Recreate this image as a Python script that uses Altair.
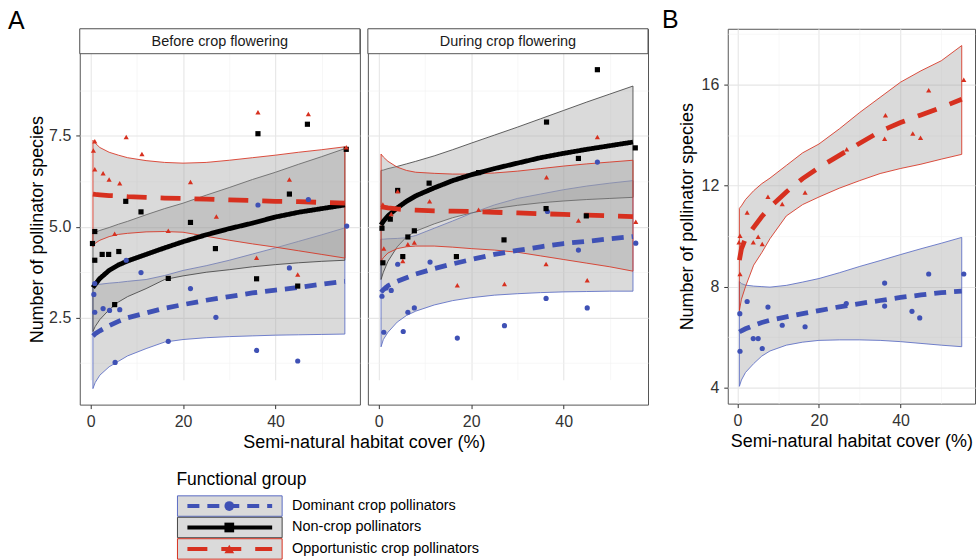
import altair as alt
import pandas as pd

FONT = "Liberation Sans"

GROUPS = ["Dominant crop pollinators", "Non-crop pollinators", "Opportunistic crop pollinators"]
STRIPS = ["Before crop flowering", "During crop flowering"]
X_TITLE = "Semi-natural habitat cover (%)"
Y_TITLE = "Number of pollinator species"
LEGEND_TITLE = "Functional group"
PANEL_LETTERS = ["A", "B"]

# ---------------- observed points ----------------
BEFORE_DOM_X = [36.2, 47.1, 55.4, 7.7, 10.9, 43.0, 0.9, 0.7, 21.6, 0.9, 2.7, 4.1, 6.3, 27.1, 16.8, 5.3, 35.9, 44.8]
BEFORE_DOM_Y = [5.60, 5.75, 5.02, 4.08, 3.74, 3.87, 3.44, 3.14, 3.30, 2.65, 2.75, 2.70, 2.72, 2.51, 1.85, 1.27, 1.60, 1.31]
BEFORE_NON_X = [36.2, 46.9, 55.3, 43.0, 7.6, 10.9, 21.6, 0.9, 0.4, 0.9, 2.5, 3.9, 6.1, 27.0, 16.8, 35.9, 44.8, 5.2]
BEFORE_NON_Y = [7.56, 7.82, 7.13, 5.90, 5.70, 5.41, 5.12, 4.87, 4.54, 4.08, 4.24, 4.24, 4.32, 4.40, 3.58, 3.57, 3.37, 2.86]
BEFORE_OPP_X = [0.6, 0.9, 0.9, 2.7, 4.0, 6.3, 7.7, 11.1, 21.6, 27.2, 16.8, 5.2, 36.2, 43.0, 47.1, 55.3, 35.9, 44.8]
BEFORE_OPP_Y = [7.10, 7.35, 6.58, 6.47, 6.30, 6.20, 7.47, 7.00, 6.23, 5.28, 4.89, 4.81, 8.15, 6.30, 8.10, 7.19, 4.15, 3.69]

DURING_DOM_X = [47.3, 36.5, 55.6, 43.2, 11.1, 4.1, 0.7, 2.7, 1.6, 36.2, 45.1, 6.3, 7.7, 1.1, 5.3, 17.0, 27.2]
DURING_DOM_Y = [6.78, 5.42, 4.55, 4.36, 4.03, 3.97, 3.09, 3.25, 3.32, 3.03, 2.77, 2.65, 2.77, 2.10, 2.12, 1.94, 2.28]
DURING_NON_X = [47.3, 36.3, 55.5, 43.2, 21.6, 10.9, 4.1, 36.2, 44.9, 2.5, 0.7, 7.7, 6.3, 27.1, 0.9, 5.2, 16.8]
DURING_NON_Y = [9.32, 7.88, 7.17, 6.88, 6.49, 6.20, 6.00, 5.50, 5.30, 5.21, 4.96, 4.89, 4.72, 4.64, 4.01, 4.18, 4.18]
DURING_OPP_X = [47.3, 36.3, 4.1, 11.0, 0.9, 2.7, 21.6, 43.2, 55.6, 1.1, 6.3, 7.7, 5.2, 36.2, 17.0, 27.2, 45.1]
DURING_OPP_Y = [7.47, 6.36, 5.98, 5.70, 5.61, 5.35, 5.47, 5.17, 5.14, 4.40, 4.52, 4.57, 4.06, 3.98, 3.39, 3.43, 3.53]

TOTAL_DOM_X = [55.5, 46.9, 36.1, 36.1, 42.8, 44.7, 26.7, 11.0, 16.6, 7.5, 2.4, 0.6, 3.9, 5.1, 6.1, 0.65]
TOTAL_DOM_Y = [8.50, 8.50, 8.14, 7.23, 7.02, 6.76, 7.33, 6.47, 6.41, 7.19, 7.41, 6.93, 5.94, 5.94, 5.55, 5.44]
TOTAL_OPP_X = [55.5, 46.9, 36.3, 43.0, 44.9, 36.1, 26.8, 16.6, 11.0, 7.5, 2.4, 0.65, 5.1, 0.4, 3.9, 6.1, 0.65]
TOTAL_OPP_Y = [16.2, 15.78, 14.79, 14.07, 13.9, 13.86, 13.44, 11.73, 11.27, 11.56, 10.94, 10.02, 9.98, 9.76, 9.76, 9.69, 8.5]

# ---------------- fitted curves and confidence bands ----------------
FIT_X = [0.5, 1, 2, 4, 6, 8, 12, 16, 20, 25, 30, 35, 40, 45, 50, 55]

BEFORE_DOM_FIT = [2.00, 2.06, 2.14, 2.28, 2.40, 2.50, 2.63, 2.76, 2.86, 2.98, 3.08, 3.18, 3.26, 3.33, 3.42, 3.50]
BEFORE_DOM_LO = [0.55, 0.72, 0.92, 1.15, 1.30, 1.45, 1.65, 1.83, 1.90, 1.95, 1.98, 2.00, 2.02, 2.03, 2.04, 2.05]
BEFORE_DOM_HI = [3.40, 3.41, 3.42, 3.45, 3.47, 3.50, 3.55, 3.66, 3.80, 3.93, 4.08, 4.25, 4.42, 4.60, 4.78, 4.97]
BEFORE_NON_FIT = [3.33, 3.42, 3.58, 3.80, 3.95, 4.06, 4.24, 4.42, 4.59, 4.78, 4.95, 5.10, 5.27, 5.40, 5.50, 5.60]
BEFORE_NON_LO = [2.12, 2.26, 2.45, 2.72, 2.93, 3.08, 3.30, 3.55, 3.65, 3.75, 3.82, 3.90, 3.96, 4.01, 4.05, 4.08]
BEFORE_NON_HI = [4.82, 4.85, 4.90, 4.98, 5.07, 5.15, 5.33, 5.50, 5.65, 5.87, 6.08, 6.30, 6.50, 6.72, 6.93, 7.15]
BEFORE_OPP_FIT = [5.90, 5.89, 5.88, 5.86, 5.85, 5.83, 5.81, 5.79, 5.78, 5.76, 5.74, 5.72, 5.70, 5.69, 5.67, 5.65]
BEFORE_OPP_LO = [4.45, 4.55, 4.63, 4.73, 4.79, 4.82, 4.86, 4.87, 4.85, 4.74, 4.63, 4.53, 4.44, 4.34, 4.24, 4.14]
BEFORE_OPP_HI = [7.38, 7.30, 7.18, 7.05, 6.97, 6.90, 6.82, 6.77, 6.75, 6.77, 6.83, 6.90, 6.97, 7.05, 7.12, 7.20]

DURING_DOM_FIT = [3.20, 3.27, 3.38, 3.50, 3.60, 3.70, 3.85, 3.98, 4.10, 4.24, 4.35, 4.45, 4.54, 4.60, 4.67, 4.73]
DURING_DOM_LO = [1.70, 1.90, 2.10, 2.38, 2.56, 2.68, 2.85, 2.97, 3.05, 3.12, 3.16, 3.19, 3.21, 3.22, 3.23, 3.23]
DURING_DOM_HI = [4.66, 4.66, 4.67, 4.68, 4.70, 4.76, 4.96, 5.16, 5.37, 5.60, 5.78, 5.90, 6.02, 6.12, 6.20, 6.27]
DURING_NON_FIT = [5.05, 5.15, 5.30, 5.52, 5.70, 5.85, 6.07, 6.27, 6.43, 6.60, 6.75, 6.90, 7.02, 7.13, 7.23, 7.33]
DURING_NON_LO = [3.55, 3.75, 4.05, 4.45, 4.72, 4.88, 5.08, 5.25, 5.38, 5.50, 5.59, 5.66, 5.71, 5.75, 5.78, 5.81]
DURING_NON_HI = [6.55, 6.56, 6.60, 6.66, 6.73, 6.80, 6.95, 7.12, 7.30, 7.52, 7.74, 7.97, 8.20, 8.43, 8.65, 8.87]
DURING_OPP_FIT = [5.55, 5.54, 5.52, 5.49, 5.47, 5.46, 5.44, 5.43, 5.42, 5.40, 5.38, 5.36, 5.34, 5.32, 5.30, 5.28]
DURING_OPP_LO = [4.05, 4.15, 4.28, 4.40, 4.45, 4.47, 4.47, 4.44, 4.40, 4.36, 4.30, 4.20, 4.10, 4.00, 3.90, 3.78]
DURING_OPP_HI = [7.00, 6.92, 6.80, 6.64, 6.55, 6.50, 6.47, 6.45, 6.45, 6.48, 6.53, 6.60, 6.67, 6.73, 6.78, 6.83]

TOTAL_DOM_FIT = [6.20, 6.25, 6.33, 6.46, 6.58, 6.67, 6.80, 6.93, 7.05, 7.20, 7.33, 7.45, 7.57, 7.67, 7.76, 7.82]
TOTAL_DOM_LO = [4.05, 4.30, 4.60, 4.95, 5.25, 5.45, 5.68, 5.80, 5.87, 5.89, 5.89, 5.87, 5.82, 5.75, 5.68, 5.62]
TOTAL_DOM_HI = [8.20, 8.12, 8.06, 8.02, 8.00, 7.98, 8.05, 8.18, 8.32, 8.55, 8.80, 9.03, 9.27, 9.50, 9.72, 9.95]
TOTAL_OPP_FIT = [9.05, 9.50, 9.90, 10.35, 10.78, 11.15, 11.75, 12.28, 12.72, 13.20, 13.68, 14.15, 14.50, 14.80, 15.10, 15.42]
TOTAL_OPP_LO = [7.05, 7.50, 8.00, 8.85, 9.35, 9.90, 10.80, 11.25, 11.55, 11.90, 12.20, 12.48, 12.68, 12.85, 13.05, 13.24]
TOTAL_OPP_HI = [11.10, 11.20, 11.45, 11.80, 12.08, 12.30, 12.80, 13.30, 13.65, 14.25, 14.90, 15.50, 16.10, 16.55, 16.95, 17.55]

# ---------------- styles ----------------
LINE_COLORS = ["#3F51B5", "#000000", "#D7301F"]
EDGE_COLORS = ["#5A6BC4", "#444444", "#D7301F"]
DASHES = [[12, 8], [1, 0], [20, 14]]
SHAPES = ["circle", "square", "triangle-up"]

color_scale = alt.Scale(domain=GROUPS, range=LINE_COLORS)
edge_scale = alt.Scale(domain=GROUPS, range=EDGE_COLORS)
dash_scale = alt.Scale(domain=GROUPS, range=DASHES)
shape_scale = alt.Scale(domain=GROUPS, range=SHAPES)


def pts_df(series):
    rows = []
    for g, xs, ys in series:
        for a, b in zip(xs, ys):
            rows.append({"group": g, "x": a, "y": b})
    return pd.DataFrame(rows)


def fit_df(series):
    rows = []
    for g, ys, los, his in series:
        for a, b, lo, hi in zip(FIT_X, ys, los, his):
            rows.append({"group": g, "x": a, "y": b, "lo": lo, "hi": hi})
    return pd.DataFrame(rows)


def cond(test, a, b):
    return {"condition": {"test": test, "value": a}, "value": b}


X_SCALE = alt.Scale(domain=[-2.35, 58.25], nice=False, zero=False)


def x_axis(title=None, title_x=None):
    kw = dict(
        values=[0, 10, 20, 30, 40, 50],
        labelExpr="datum.value % 20 === 0 ? datum.label : ''",
        tickOpacity=cond("datum.value % 20 === 0", 1, 0),
        gridColor=cond("datum.value % 20 === 0", "#E6E6E6", "#F2F2F2"),
        gridWidth=cond("datum.value % 20 === 0", 1.1, 0.6),
        domain=False, labelFlush=False, labelOverlap=False,
        labelPadding=5, tickSize=4, titlePadding=4,
        title=title,
    )
    if title_x is not None:
        kw["titleX"] = title_x
    return alt.Axis(**kw)


def y_axis(values, major_test, fmt, title=None, labels=True, title_pad=4):
    kw = dict(
        values=values,
        gridColor=cond(major_test, "#E6E6E6", "#F2F2F2"),
        gridWidth=cond(major_test, 1.1, 0.6),
        domain=False, labelOverlap=False, labelFlush=False,
        title=title,
    )
    if labels:
        kw.update(
            labelExpr=f"{major_test} ? format(datum.value, '{fmt}') : ''",
            tickOpacity=cond(major_test, 1, 0),
            labelPadding=5, tickSize=4, titlePadding=title_pad,
        )
    else:
        kw.update(labels=False, ticks=False)
    return alt.Axis(**kw)


def panel(points, fits, xax, yscale, yax, width, height, extra):
    X = lambda f: alt.X(f, type="quantitative", scale=X_SCALE, axis=xax)
    Y = lambda f: alt.Y(f, type="quantitative", scale=yscale, axis=yax)
    ribbons = alt.Chart(fits).mark_area(
        fill="#9E9E9E", fillOpacity=0.38, strokeWidth=1, strokeOpacity=0.85
    ).encode(
        x=X("x"), y=Y("lo"), y2="hi:Q",
        stroke=alt.Stroke("group:N", scale=edge_scale, legend=None),
    )
    lines = alt.Chart(fits).mark_line(strokeWidth=4.8).encode(
        x=X("x"), y=Y("y"),
        color=alt.Color("group:N", scale=color_scale, legend=None),
        strokeDash=alt.StrokeDash("group:N", scale=dash_scale, legend=None),
    )
    dots = alt.Chart(points).mark_point(filled=True, size=27, opacity=1).encode(
        x=X("x"), y=Y("y"),
        color=alt.Color("group:N", scale=color_scale, legend=None),
        shape=alt.Shape("group:N", scale=shape_scale, legend=None),
    )
    return alt.layer(ribbons, lines, dots, *extra).properties(width=width, height=height)


def strip(label, width):
    d = pd.DataFrame({"label": [label]})
    box = alt.Chart(d).mark_rect(fill="white", stroke="#555555", strokeWidth=1).encode(
        x=alt.value(0), x2=alt.value(width), y=alt.value(0), y2=alt.value(25)
    )
    txt = alt.Chart(d).mark_text(font=FONT, fontSize=14.5, color="#1A1A1A").encode(
        x=alt.value(width / 2), y=alt.value(13), text="label:N"
    )
    return [box, txt]


def letter(t, dx, dy):
    d = pd.DataFrame({"t": [t]})
    return alt.Chart(d).mark_text(
        font=FONT, fontSize=25, align="left", baseline="alphabetic", color="#000000"
    ).encode(x=alt.value(dx), y=alt.value(dy), text="t:N")


def legend_layers(top0, row_h):
    layers = []
    for i, g in enumerate(GROUPS):
        d = pd.DataFrame({"group": [g]})
        top = top0 + i * row_h
        mid = top + (row_h - 1) / 2
        layers.append(alt.Chart(d).mark_rect(fill="#9E9E9E", fillOpacity=0.38, strokeWidth=1).encode(
            x=alt.value(98), x2=alt.value(203), y=alt.value(top), y2=alt.value(top + row_h - 1),
            stroke=alt.Stroke("group:N", scale=edge_scale, legend=None)))
        layers.append(alt.Chart(d).mark_rule(strokeWidth=4).encode(
            x=alt.value(108), x2=alt.value(193), y=alt.value(mid),
            color=alt.Color("group:N", scale=color_scale, legend=None),
            strokeDash=alt.StrokeDash("group:N", scale=dash_scale, legend=None)))
        layers.append(alt.Chart(d).mark_point(filled=True, size=95, opacity=1).encode(
            x=alt.value(150), y=alt.value(mid),
            color=alt.Color("group:N", scale=color_scale, legend=None),
            shape=alt.Shape("group:N", scale=shape_scale, legend=None)))
        layers.append(alt.Chart(d).mark_text(font=FONT, fontSize=14.5, align="left", baseline="middle",
                                             color="#000000").encode(
            x=alt.value(213), y=alt.value(mid), text="group:N"))
    layers.append(alt.Chart(pd.DataFrame({"t": [LEGEND_TITLE]})).mark_text(
        font=FONT, fontSize=17.5, align="left", baseline="alphabetic", color="#000000"
    ).encode(x=alt.value(97), y=alt.value(top0 - 11), text="t:N"))
    return layers


PW = 281
A_H = 377
A_YSCALE = alt.Scale(domain=[0.11, 9.76], range=[A_H, 25], nice=False, zero=False)
A_YVALS = [1.25, 2.5, 3.75, 5, 6.25, 7.5, 8.75]
A_TEST = "datum.value % 2.5 === 0"

before_pts = pts_df([(GROUPS[0], BEFORE_DOM_X, BEFORE_DOM_Y), (GROUPS[1], BEFORE_NON_X, BEFORE_NON_Y),
                     (GROUPS[2], BEFORE_OPP_X, BEFORE_OPP_Y)])
before_fit = fit_df([(GROUPS[0], BEFORE_DOM_FIT, BEFORE_DOM_LO, BEFORE_DOM_HI),
                     (GROUPS[1], BEFORE_NON_FIT, BEFORE_NON_LO, BEFORE_NON_HI),
                     (GROUPS[2], BEFORE_OPP_FIT, BEFORE_OPP_LO, BEFORE_OPP_HI)])
during_pts = pts_df([(GROUPS[0], DURING_DOM_X, DURING_DOM_Y), (GROUPS[1], DURING_NON_X, DURING_NON_Y),
                     (GROUPS[2], DURING_OPP_X, DURING_OPP_Y)])
during_fit = fit_df([(GROUPS[0], DURING_DOM_FIT, DURING_DOM_LO, DURING_DOM_HI),
                     (GROUPS[1], DURING_NON_FIT, DURING_NON_LO, DURING_NON_HI),
                     (GROUPS[2], DURING_OPP_FIT, DURING_OPP_LO, DURING_OPP_HI)])
total_pts = pts_df([(GROUPS[0], TOTAL_DOM_X, TOTAL_DOM_Y), (GROUPS[2], TOTAL_OPP_X, TOTAL_OPP_Y)])
total_fit = fit_df([(GROUPS[0], TOTAL_DOM_FIT, TOTAL_DOM_LO, TOTAL_DOM_HI),
                    (GROUPS[2], TOTAL_OPP_FIT, TOTAL_OPP_LO, TOTAL_OPP_HI)])

left = panel(
    before_pts, before_fit,
    x_axis(title=X_TITLE, title_x=PW + 4),
    A_YSCALE, y_axis(A_YVALS, A_TEST, ".1f", title=Y_TITLE, title_pad=2),
    PW, A_H,
    strip(STRIPS[0], PW) + [letter(PANEL_LETTERS[0], -72, 0)] + legend_layers(468.5, 21.5),
)
right = panel(
    during_pts, during_fit,
    x_axis(title=None),
    A_YSCALE, y_axis(A_YVALS, A_TEST, ".1f", labels=False),
    PW, A_H, strip(STRIPS[1], PW),
)

B_W, B_H = 248, 376
B_YSCALE = alt.Scale(domain=[3.365, 18.215], nice=False, zero=False)
panel_b = panel(
    total_pts, total_fit,
    x_axis(title=X_TITLE),
    B_YSCALE, y_axis([4, 6, 8, 10, 12, 14, 16, 18], "datum.value % 4 === 0", "d", title=Y_TITLE, title_pad=5),
    B_W, B_H, [letter(PANEL_LETTERS[1], -66, -1)],
)

spacer = alt.Chart(pd.DataFrame({"v": [0]})).mark_point(opacity=0).encode(
    x=alt.value(0), y=alt.value(0)
).properties(width=64, height=10, view=alt.ViewBackground(stroke="transparent"))

chart = alt.hconcat(
    left, right, spacer, panel_b, spacing=8, bounds="flush",
    padding={"left": 7, "top": 6, "right": 0, "bottom": 0},
).configure_view(
    stroke="#555555", strokeWidth=1
).configure_axis(
    labelFont=FONT, titleFont=FONT, labelFontSize=16, titleFontSize=18,
    labelColor="#333333", titleColor="#000000", titleFontWeight="normal",
    tickColor="#333333", tickWidth=1,
)

chart.save("out.html", embed_options={"renderer": "svg", "actions": False})
